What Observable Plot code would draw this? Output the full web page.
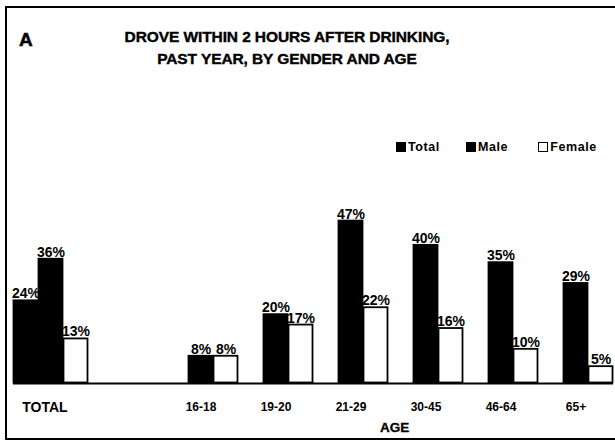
<!DOCTYPE html>
<html>
<head>
<meta charset="utf-8">
<script src="https://cdn.jsdelivr.net/npm/d3@7"></script>
<script src="https://cdn.jsdelivr.net/npm/@observablehq/plot@0.6"></script>
<style>
  html, body { margin: 0; padding: 0; background: #fff; overflow: hidden; }
  #wrap { position: relative; width: 615px; height: 443px; font-family: "Liberation Sans", Arial, sans-serif; font-weight: bold; color: #000; }
  #frame { position: absolute; left: 5px; top: 6px; width: 620px; height: 434px; border-top: 2px solid #000; border-left: 2px solid #000; border-bottom: 2px solid #000; box-sizing: border-box; }
  #letter { position: absolute; left: 19px; top: 29px; font-size: 19px; -webkit-text-stroke: 0.5px #000; }
  #title { position: absolute; left: 87px; width: 400px; top: 26px; text-align: center; font-size: 15.5px; line-height: 22px; letter-spacing: -0.1px; -webkit-text-stroke: 0.4px #000; }
  #legend { position: absolute; left: 396px; top: 140px; font-size: 12.5px; display: flex; align-items: center; letter-spacing: 0.6px; }
  .item { display: flex; align-items: center; }
  .sw { width: 10px; height: 10px; margin-right: 2px; box-sizing: border-box; border: 1.5px solid #000; }
  #age { position: absolute; left: 380px; top: 420px; font-size: 13.5px; -webkit-text-stroke: 0.3px #000; }
  svg { position: absolute; left: 0; top: 0; }
</style>
</head>
<body>
<div id="wrap">
  <div id="chart"></div>
  <div id="frame"></div>
  <div id="letter">A</div>
  <div id="title">DROVE WITHIN 2 HOURS AFTER DRINKING,<br>PAST YEAR, BY GENDER AND AGE</div>
  <div id="legend"></div>
  <div id="age">AGE</div>
</div>
<script>
// ---- data ----
const seriesNames = ["Total", "Male", "Female"];
const seriesFill = ["#000", "#000", "#fff"];
const totalLabel = "TOTAL";
const totalValues = [24, 36, 13];          // Total, Male, Female
const ageGroups = ["16-18", "19-20", "21-29", "30-45", "46-64", "65+"];
const maleByAge = [8, 20, 47, 40, 35, 29];
const femaleByAge = [8, 17, 22, 16, 10, 5];

// ---- build table ----
const rows = [];
seriesNames.forEach((s, i) => rows.push({group: totalLabel, series: s, value: totalValues[i]}));
ageGroups.forEach((g, i) => {
  rows.push({group: g, series: "Male", value: maleByAge[i]});
  rows.push({group: g, series: "Female", value: femaleByAge[i]});
});
const fxDomain = [totalLabel, " ", ...ageGroups];
const fillOf = s => seriesFill[seriesNames.indexOf(s)];

const width = 615, marginLeft = 10, marginRight = 0;

const chart = Plot.plot({
  width, height: 443,
  marginLeft, marginRight, marginTop: 175, marginBottom: 60,
  style: {fontFamily: "'Liberation Sans', Arial, sans-serif", fontWeight: "bold", overflow: "visible"},
  fx: {domain: fxDomain, paddingInner: 0, paddingOuter: 0, axis: null},
  x: {domain: seriesNames, padding: 0, axis: null},
  y: {domain: [0, 60], axis: null},
  marks: [
    Plot.ruleY(fxDomain, {fx: d => d, y: () => 0, stroke: "#000", strokeWidth: 2.2}),
    Plot.barY(rows, {fx: "group", x: "series", y: "value", fill: d => fillOf(d.series), stroke: "#000", strokeWidth: 1.8, inset: 0.5}),
    Plot.text(rows, {fx: "group", x: "series", y: "value", text: d => d.value + "%", lineAnchor: "bottom", dy: -2, fontSize: 14, fontWeight: "bold", letterSpacing: -0.8}),
    Plot.text([totalLabel], {fx: d => d, x: () => "Male", y: () => 0, text: d => d, dx: -6, dy: 24, fontSize: 14, fontWeight: "bold", letterSpacing: -0.2}),
    Plot.text(ageGroups, {fx: d => d, x: () => "Male", y: () => 0, text: d => d, dy: 24, fontSize: 12, fontWeight: "bold", letterSpacing: -0.3})
  ]
});
document.getElementById("chart").appendChild(chart);

// ---- legend ----
const legend = document.getElementById("legend");
const gaps = [26, 30, 0];
seriesNames.forEach((s, i) => {
  const it = document.createElement("div");
  it.className = "item";
  it.style.marginRight = gaps[i] + "px";
  const sw = document.createElement("div");
  sw.className = "sw";
  sw.style.background = seriesFill[i];
  it.appendChild(sw);
  const t = document.createElement("span");
  t.textContent = s;
  it.appendChild(t);
  legend.appendChild(it);
});
</script>
</body>
</html>
